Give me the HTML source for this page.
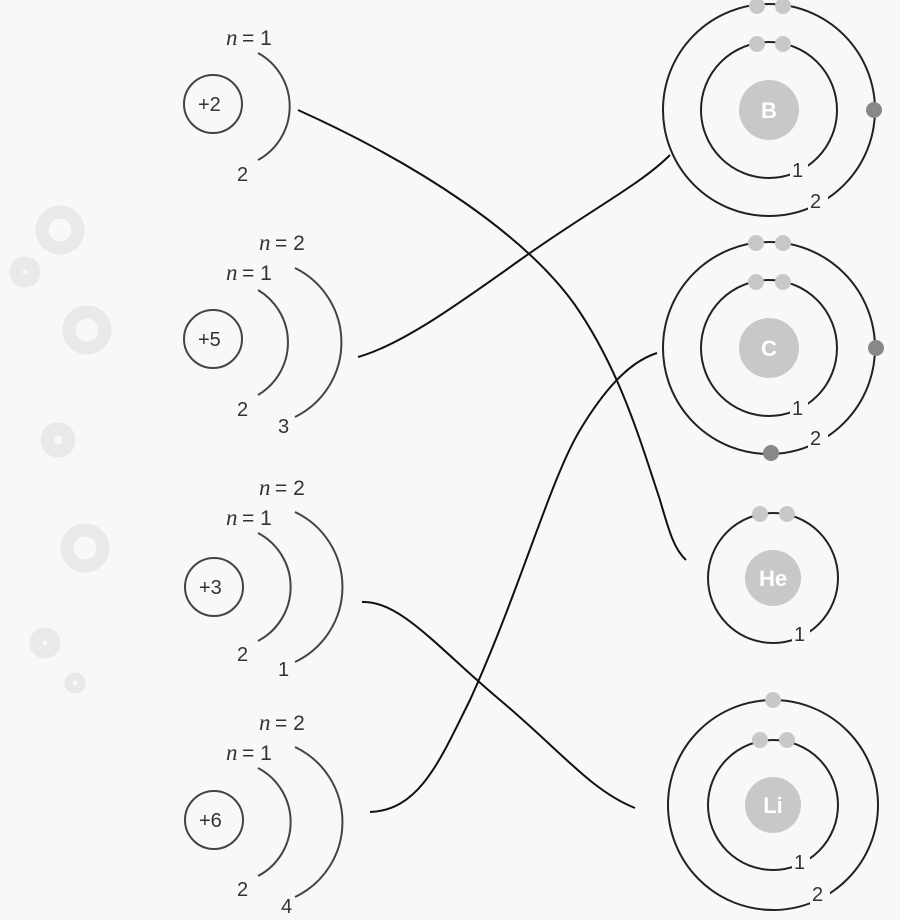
<!DOCTYPE html>
<html><head><meta charset="utf-8"><style>
html,body{margin:0;padding:0;background:#f8f8f7;}
svg{display:block}
text{font-family:"Liberation Sans",sans-serif;fill:#333;}
.n{font-family:"Liberation Serif",serif;font-style:italic;}
</style></head><body>
<svg width="900" height="920" viewBox="0 0 900 920" xmlns="http://www.w3.org/2000/svg">
<g fill="none" stroke="#e9e9e9" stroke-width="13">
<circle cx="60" cy="230" r="18"/><circle cx="25" cy="272" r="9"/><circle cx="87" cy="330" r="18"/>
<circle cx="58" cy="440" r="11"/><circle cx="85" cy="548" r="18"/><circle cx="45" cy="643" r="9"/><circle cx="75" cy="683" r="4"/>
</g>
<g fill="none" stroke="#444" stroke-width="2">
<circle cx="213" cy="104" r="29"/><circle cx="213" cy="339" r="29"/><circle cx="214" cy="587" r="29"/><circle cx="214" cy="820" r="29"/>
<path d="M258 53 A61 61 0 0 1 258 160"/>
<path d="M258 290 A61 61 0 0 1 258 395"/><path d="M295 268 A83 83 0 0 1 295 417"/>
<path d="M258 533 A61 61 0 0 1 258 641"/><path d="M295 512 A83 83 0 0 1 295 662"/>
<path d="M258 768 A61 61 0 0 1 258 876"/><path d="M295 747 A83 83 0 0 1 295 897"/>
</g>
<g font-size="20">
<text x="198" y="111">+2</text><text x="198" y="346">+5</text><text x="199" y="594">+3</text><text x="199" y="827">+6</text>
<text class="n" x="226" y="45" font-size="23">n</text><text x="242" y="45" font-size="21">= 1</text><text x="237" y="181">2</text>
<text class="n" x="259" y="250" font-size="23">n</text><text x="275" y="250" font-size="21">= 2</text>
<text class="n" x="226" y="280" font-size="23">n</text><text x="242" y="280" font-size="21">= 1</text><text x="237" y="416">2</text><text x="278" y="433">3</text>
<text class="n" x="259" y="495" font-size="23">n</text><text x="275" y="495" font-size="21">= 2</text>
<text class="n" x="226" y="525" font-size="23">n</text><text x="242" y="525" font-size="21">= 1</text><text x="237" y="661">2</text><text x="278" y="676">1</text>
<text class="n" x="259" y="730" font-size="23">n</text><text x="275" y="730" font-size="21">= 2</text>
<text class="n" x="226" y="760" font-size="23">n</text><text x="242" y="760" font-size="21">= 1</text><text x="237" y="896">2</text><text x="281" y="913">4</text>
</g>
<g fill="none" stroke="#111" stroke-width="2">
<path d="M298 110 C 420 165, 525 235, 575 305 C 620 370, 640 440, 660 500 C 670 535, 675 550, 686 560"/>
<path d="M358 357 C 400 345, 450 310, 520 260 C 590 210, 640 185, 670 155"/>
<path d="M362 602 C 400 600, 440 650, 500 700 C 560 750, 590 790, 635 808"/>
<path d="M370 812 C 420 810, 440 760, 470 700 C 520 590, 550 480, 580 430 C 610 380, 635 360, 657 353"/>
</g>
<g fill="none" stroke="#222" stroke-width="2">
<circle cx="769" cy="110" r="68"/><circle cx="769" cy="110" r="106"/>
<circle cx="769" cy="348" r="68"/><circle cx="769" cy="348" r="106"/>
<circle cx="773" cy="578" r="65"/>
<circle cx="773" cy="805" r="65"/><circle cx="773" cy="805" r="105"/>
</g>
<g fill="#f8f8f7">
<rect x="790" y="158" width="18" height="22"/><rect x="808" y="188" width="20" height="22"/>
<rect x="790" y="396" width="18" height="22"/><rect x="808" y="426" width="20" height="22"/>
<rect x="792" y="622" width="18" height="22"/>
<rect x="792" y="850" width="18" height="22"/><rect x="810" y="882" width="20" height="22"/>
</g>
<g font-size="20">
<text x="792" y="177">1</text><text x="810" y="208">2</text>
<text x="792" y="415">1</text><text x="810" y="445">2</text>
<text x="794" y="641">1</text>
<text x="794" y="869">1</text><text x="812" y="901">2</text>
</g>
<g fill="#c8c8c8">
<circle cx="769" cy="110" r="30"/><circle cx="769" cy="348" r="30"/><circle cx="773" cy="578" r="28"/><circle cx="773" cy="805" r="28"/>
<circle cx="757" cy="6" r="8"/><circle cx="783" cy="6" r="8"/><circle cx="757" cy="44" r="8"/><circle cx="783" cy="44" r="8"/>
<circle cx="756" cy="243" r="8"/><circle cx="783" cy="243" r="8"/><circle cx="756" cy="282" r="8"/><circle cx="783" cy="282" r="8"/>
<circle cx="760" cy="514" r="8"/><circle cx="787" cy="514" r="8"/>
<circle cx="773" cy="700" r="8"/><circle cx="760" cy="740" r="8"/><circle cx="787" cy="740" r="8"/>
</g>
<g fill="#888">
<circle cx="874" cy="110" r="8"/><circle cx="876" cy="348" r="8"/><circle cx="771" cy="453" r="8"/>
</g>
<g font-weight="bold" font-size="22" text-anchor="middle">
<text x="769" y="118" style="fill:#fff">B</text><text x="769" y="356" style="fill:#fff">C</text>
<text x="773" y="586" style="fill:#fff">He</text><text x="773" y="813" style="fill:#fff">Li</text>
</g>
</svg>
</body></html>
